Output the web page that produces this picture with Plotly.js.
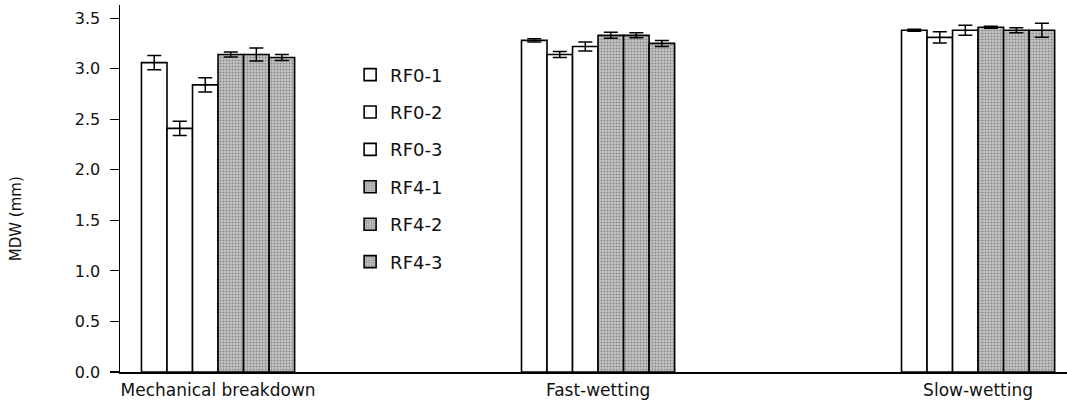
<!DOCTYPE html>
<html>
<head>
<meta charset="utf-8">
<script src="https://cdn.plot.ly/plotly-3.0.1.min.js"></script>
<style>
  html, body { margin: 0; padding: 0; background: #fff; }
  #chart { width: 1067px; height: 401px; }
</style>
</head>
<body>
<div id="chart"></div>
<script>
// Categories (x-axis groups)
const categories = ["Mechanical breakdown", "Fast-wetting", "Slow-wetting"];

// Series names
const seriesNames = ["RF0-1", "RF0-2", "RF0-3", "RF4-1", "RF4-2", "RF4-3"];

// Mean MDW (mm) per series, in category order
const rf0_1 = [3.06, 3.28, 3.38];
const rf0_2 = [2.41, 3.14, 3.31];
const rf0_3 = [2.84, 3.22, 3.38];
const rf4_1 = [3.14, 3.33, 3.41];
const rf4_2 = [3.14, 3.33, 3.38];
const rf4_3 = [3.11, 3.25, 3.38];

// Error (± mm) per series
const rf0_1_err = [0.07, 0.015, 0.01];
const rf0_2_err = [0.07, 0.03, 0.055];
const rf0_3_err = [0.07, 0.045, 0.05];
const rf4_1_err = [0.025, 0.03, 0.01];
const rf4_2_err = [0.065, 0.025, 0.025];
const rf4_3_err = [0.03, 0.03, 0.07];

// Y-axis ticks
const yTickVals = [0, 0.5, 1.0, 1.5, 2.0, 2.5, 3.0, 3.5];
const yTickText = ["0.0", "0.5", "1.0", "1.5", "2.0", "2.5", "3.0", "3.5"];

const values = [rf0_1, rf0_2, rf0_3, rf4_1, rf4_2, rf4_3];
const errors = [rf0_1_err, rf0_2_err, rf0_3_err, rf4_1_err, rf4_2_err, rf4_3_err];

const xIdx = categories.map((c, i) => i);
const FONT = "DejaVu Sans, Liberation Sans, Arial, sans-serif";

const traces = seriesNames.map((name, i) => {
  const shaded = name.startsWith("RF4");
  const marker = {
    color: shaded ? "#b0b0b0" : "#ffffff",
    line: { color: "#000000", width: 1.6 }
  };
  if (shaded) {
    marker.pattern = {
      shape: ".",
      fgcolor: "#8a8a8a",
      bgcolor: "#c6c6c6",
      size: 3,
      solidity: 0.4,
      fillmode: "replace"
    };
  }
  return {
    type: "bar",
    name: name,
    legendgroup: name,
    x: xIdx,
    y: values[i],
    marker: marker,
    error_y: {
      type: "data",
      array: errors[i],
      visible: true,
      color: "#000000",
      thickness: 1.5,
      width: 7
    },
    hoverinfo: "skip"
  };
});

const layout = {
  width: 1067,
  height: 401,
  margin: { l: 120, r: 0, t: 5, b: 29, pad: 0 },
  paper_bgcolor: "#ffffff",
  plot_bgcolor: "#ffffff",
  font: { family: FONT, size: 16, color: "#111111" },
  barmode: "group",
  bargap: 0.597,
  bargroupgap: 0,
  showlegend: true,
  legend: {
    x: 0.243,
    xanchor: "left",
    y: 0.86,
    yanchor: "top",
    bgcolor: "rgba(0,0,0,0)",
    borderwidth: 0,
    tracegroupgap: 11,
    font: { family: FONT, size: 18, color: "#111111" }
  },
  xaxis: {
    range: [-0.258, 2.234],
    tickmode: "array",
    tickvals: xIdx,
    ticktext: categories,
    ticks: "",
    showgrid: false,
    zeroline: false,
    showline: true,
    linecolor: "#000000",
    linewidth: 1.5,
    automargin: false,
    tickfont: { family: FONT, size: 17, color: "#111111" },
    ticklabelstandoff: 2,
    fixedrange: true
  },
  yaxis: {
    range: [0, 3.63],
    tickmode: "array",
    tickvals: yTickVals,
    ticktext: yTickText,
    ticks: "outside",
    ticklen: 9,
    tickwidth: 1.2,
    tickcolor: "#000000",
    showgrid: false,
    zeroline: false,
    showline: true,
    linecolor: "#000000",
    linewidth: 1.5,
    automargin: false,
    tickfont: { family: FONT, size: 16, color: "#111111" },
    ticklabelstandoff: 6,
    fixedrange: true
  },
  annotations: [{
    text: "MDW (mm)",
    xref: "paper",
    yref: "paper",
    x: -0.1095,
    y: 0.417,
    xanchor: "center",
    yanchor: "middle",
    textangle: -90,
    showarrow: false,
    font: { family: FONT, size: 15, color: "#111111" }
  }]
};

Plotly.newPlot("chart", traces, layout, { displayModeBar: false, staticPlot: true });
</script>
</body>
</html>
